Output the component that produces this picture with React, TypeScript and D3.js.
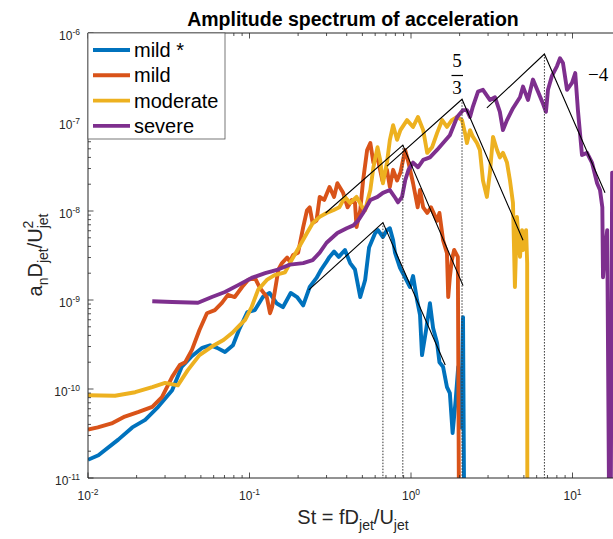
import React from 'react';
import * as d3 from 'd3';

type Pt = [number, number];

// St = fD/U, amplitude a_n D / U^2
const mildStar: Pt[] = [
  [0.01, 1.6e-11], [0.0116, 1.8e-11], [0.0154, 2.7e-11], [0.0188, 3.7e-11], [0.0226, 4.5e-11],
  [0.0272, 6.3e-11], [0.0332, 9.7e-11], [0.038, 1.77e-10], [0.0435, 2.3e-10], [0.051, 2.9e-10],
  [0.057, 3.1e-10], [0.063, 2.9e-10], [0.0705, 2.6e-10], [0.079, 3.1e-10], [0.086, 4.6e-10],
  [0.097, 7.3e-10], [0.108, 7.7e-10], [0.121, 1.08e-9], [0.133, 1.2e-9], [0.147, 9.2e-10],
  [0.161, 8.3e-10], [0.18, 1.2e-9], [0.197, 1.08e-9], [0.215, 8.7e-10], [0.236, 1.4e-9],
  [0.26, 1.77e-9], [0.278, 2.2e-9], [0.3, 2.7e-9], [0.313, 3.05e-9], [0.334, 3.5e-9],
  [0.357, 3.05e-9], [0.39, 3.65e-9], [0.42, 2.6e-9], [0.45, 2.2e-9], [0.485, 1.08e-9],
  [0.52, 1.68e-9], [0.55, 3.9e-9], [0.6, 5.65e-9], [0.625, 6.1e-9], [0.67, 5.1e-9],
  [0.71, 6.1e-9], [0.74, 6.4e-9], [0.775, 4.7e-9], [0.796, 3.4e-9], [0.855, 2.3e-9],
  [0.918, 1.8e-9], [0.986, 1.4e-9], [1.03, 1.86e-9], [1.09, 1e-9], [1.137, 6.8e-10],
  [1.17, 2.4e-10], [1.24, 4.6e-10], [1.31, 9.2e-10], [1.37, 4.85e-10], [1.45, 3.3e-10],
  [1.5, 2e-10], [1.58, 1.77e-10], [1.67, 1.05e-10], [1.74, 9e-11], [1.81, 3.2e-11],
  [1.89, 7.5e-11], [1.96, 1.77e-10], [2.04, 3.7e-11], [2.1, 6.4e-10], [2.16, 1e-13],
];

const mild: Pt[] = [
  [0.01, 3.5e-11], [0.0115, 3.7e-11], [0.014, 4.1e-11], [0.0169, 4.9e-11], [0.0204, 5.5e-11],
  [0.025, 6.3e-11], [0.0287, 8.1e-11], [0.0332, 1.37e-10], [0.037, 1.86e-10], [0.04, 2e-10],
  [0.044, 2.75e-10], [0.049, 4.6e-10], [0.0545, 7.1e-10], [0.061, 7.7e-10], [0.0675, 9.3e-10],
  [0.0735, 1.14e-9], [0.081, 1.08e-9], [0.09, 1.4e-9], [0.098, 1.68e-9], [0.108, 1.77e-9],
  [0.116, 1.37e-9], [0.128, 1.08e-9], [0.134, 7.1e-10], [0.138, 8.3e-10], [0.144, 1.3e-9],
  [0.151, 2.2e-9], [0.159, 2.6e-9], [0.171, 3e-9], [0.178, 2.7e-9], [0.186, 3.2e-9],
  [0.2, 3.4e-9], [0.215, 6.6e-9], [0.227, 1.02e-8], [0.236, 1.1e-8], [0.246, 7.3e-9],
  [0.26, 7.8e-9], [0.272, 1.44e-8], [0.29, 1.33e-8], [0.313, 1.86e-8], [0.334, 1.44e-8],
  [0.35, 2.05e-8], [0.38, 1.6e-8], [0.405, 1.1e-8], [0.43, 1.33e-8], [0.45, 1.23e-8],
  [0.46, 6.6e-9], [0.485, 1.02e-8], [0.505, 2.2e-8], [0.535, 4.85e-8], [0.56, 5.8e-8],
  [0.585, 3.5e-8], [0.62, 4e-8], [0.665, 2.2e-8], [0.71, 2.9e-8], [0.74, 1.86e-8],
  [0.775, 2.9e-8], [0.82, 2.2e-8], [0.86, 2.7e-8], [0.92, 4.85e-8], [0.965, 3.5e-8],
  [1.03, 2.05e-8], [1.1, 1.1e-8], [1.137, 1.72e-8], [1.19, 1.1e-8], [1.26, 9.5e-9],
  [1.33, 1.1e-8], [1.45, 7.8e-9], [1.5, 9.5e-9], [1.58, 4.7e-9], [1.67, 3.35e-9],
  [1.7, 1.08e-9], [1.74, 1.8e-9], [1.79, 2.8e-9], [1.85, 3.65e-9], [1.95, 3.05e-9],
  [2.0, 1e-13],
];

const moderate: Pt[] = [
  [0.01, 8.5e-11], [0.0147, 8.4e-11], [0.0196, 9.2e-11], [0.025, 1.05e-10], [0.03, 1.17e-10],
  [0.036, 1.1e-10], [0.0415, 1.63e-10], [0.049, 2.4e-10], [0.0585, 3e-10], [0.069, 3.55e-10],
  [0.078, 4.25e-10], [0.085, 5e-10], [0.094, 6e-10], [0.103, 8.3e-10], [0.113, 1.3e-9],
  [0.128, 1.68e-9], [0.143, 1.9e-9], [0.166, 2.05e-9], [0.178, 2.6e-9], [0.198, 3.65e-9],
  [0.227, 5.65e-9], [0.246, 7.3e-9], [0.272, 8.6e-9], [0.3, 9.5e-9], [0.33, 1.02e-8],
  [0.36, 1.1e-8], [0.39, 1.44e-8], [0.42, 1.23e-8], [0.46, 1.44e-8], [0.5, 1.1e-8],
  [0.52, 1.02e-8], [0.56, 1.72e-8], [0.585, 3.1e-8], [0.62, 5.2e-8], [0.645, 3.7e-8],
  [0.67, 2.05e-8], [0.71, 3.5e-8], [0.74, 6.3e-8], [0.775, 9.2e-8], [0.82, 6.3e-8],
  [0.86, 8.1e-8], [0.945, 1.05e-7], [1.03, 8.8e-8], [1.105, 1.14e-7], [1.19, 8.1e-8],
  [1.26, 4.5e-8], [1.35, 5.2e-8], [1.45, 7.5e-8], [1.56, 1.05e-7], [1.67, 8.8e-8],
  [1.79, 1.05e-7], [1.93, 1.14e-7], [2.07, 1.05e-7], [2.16, 7.5e-8], [2.22, 5.8e-8],
  [2.32, 8.1e-8], [2.42, 6.8e-8], [2.56, 5.8e-8], [2.67, 4.85e-8], [2.79, 2.2e-8],
  [2.95, 1.44e-8], [3.08, 2.7e-8], [3.22, 6.8e-8], [3.41, 4.85e-8], [3.55, 4e-8],
  [3.71, 4.5e-8], [3.93, 3.5e-8], [4.1, 2.2e-8], [4.28, 1.23e-8], [4.4, 1.4e-9],
  [4.53, 8.6e-9], [4.73, 3.05e-9], [4.87, 6.1e-9], [4.94, 3.65e-9], [5.16, 6.1e-9],
  [5.24, 2.6e-9], [5.26, 1e-13],
];

const severe: Pt[] = [
  [0.025, 9.7e-10], [0.0332, 9.5e-10], [0.048, 9.3e-10], [0.0585, 1.08e-9], [0.0705, 1.23e-9],
  [0.085, 1.47e-9], [0.103, 1.77e-9], [0.125, 2e-9], [0.15, 2.2e-9], [0.178, 2.5e-9],
  [0.215, 2.6e-9], [0.246, 2.8e-9], [0.272, 3.4e-9], [0.3, 4.4e-9], [0.35, 5.65e-9],
  [0.4, 6.4e-9], [0.44, 6.9e-9], [0.47, 7.8e-9], [0.505, 9.5e-9], [0.56, 1.33e-8],
  [0.62, 1.44e-8], [0.67, 1.6e-8], [0.74, 1.72e-8], [0.8, 1.4e-8], [0.83, 1.25e-8],
  [0.88, 1.44e-8], [0.92, 2.2e-8], [0.965, 2.9e-8], [1.03, 3.5e-8], [1.105, 3.1e-8],
  [1.19, 3.75e-8], [1.31, 4e-8], [1.45, 4.85e-8], [1.58, 5.8e-8], [1.74, 7.1e-8],
  [1.93, 1.14e-7], [2.1, 1.36e-7], [2.22, 1.36e-7], [2.32, 1.14e-7], [2.42, 1.5e-7],
  [2.6, 2.2e-7], [2.79, 2.3e-7], [3.08, 1.77e-7], [3.31, 1.9e-7], [3.55, 1.3e-7],
  [3.71, 8.1e-8], [3.93, 1.05e-7], [4.28, 1.43e-7], [4.73, 1.9e-7], [4.94, 2.5e-7],
  [5.3, 1.77e-7], [5.69, 3e-7], [6.11, 2.2e-7], [6.57, 1.6e-7], [6.85, 1.3e-7],
  [7.05, 2.3e-7], [7.46, 3.3e-7], [8.02, 4.25e-7], [8.37, 5.2e-7], [8.73, 4.6e-7],
  [9.25, 2.3e-7], [9.93, 2.75e-7], [10.4, 3.55e-7], [10.8, 1.37e-7], [11.45, 4.25e-8],
  [12.3, 4.5e-8], [13.2, 3.5e-8], [14.2, 2.05e-8], [14.8, 1.72e-8], [15.3, 1.1e-8],
  [15.45, 1.8e-9], [15.9, 3.65e-9], [16.4, 6.1e-9], [17.1, 1e-13], [17.6, 2.7e-8],
  [18.1, 1.5e-8],
];

const seriesNames = ['mild *', 'mild', 'moderate', 'severe'];
const seriesColors = ['#0072BD', '#D95319', '#EDB120', '#7E2F8E'];
const seriesData = [mildStar, mild, moderate, severe];

// slope guide triangles: start, apex, end
const slopeTriangles: Pt[][] = [
  [[0.233, 1.3e-9], [0.67, 7.4e-9], [1.63, 1.86e-10]],
  [[0.296, 9.5e-9], [0.89, 5.5e-8], [2.1, 1.45e-9]],
  [[0.71, 3.2e-8], [2.07, 1.8e-7], [4.94, 4.7e-9]],
  [[2.95, 1.44e-7], [6.7, 5.8e-7], [15.9, 1.6e-8]],
];

const xDomain: Pt = [1e-2, 31.6];
const yDomain: Pt = [1e-11, 1e-6];
const xMajor = [1e-2, 1e-1, 1e0, 1e1];
const xMajorLabels = ['-2', '-1', '0', '1'];
const yMajor = [1e-11, 1e-10, 1e-9, 1e-8, 1e-7, 1e-6];
const yMajorLabels = ['-11', '-10', '-9', '-8', '-7', '-6'];

const SANS = '"Liberation Sans", Arial, Helvetica, sans-serif';
const SERIF = '"Liberation Serif", "DejaVu Serif", serif';
const AX = '#262626';

export default function App() {
  const L = 88, T = 33, B = 478;
  const x = d3.scaleLog().domain(xDomain).range([L, L + 161.5 * Math.log10(xDomain[1] / xDomain[0])]);
  const y = d3.scaleLog().domain(yDomain).range([B, T]);
  const R = x(xDomain[1]);
  const line = d3.line<Pt>().x((d) => x(d[0])).y((d) => y(d[1]));

  const isMajor = (v: number) => Math.abs(Math.log10(v) - Math.round(Math.log10(v))) < 1e-9;
  const xt = x.ticks();
  const yt = y.ticks();

  return (
    <svg width={613} height={539} style={{ position: 'absolute', left: 0, top: 0, background: '#fff' }}
      fontFamily={SANS}>
      <defs>
        <clipPath id="plotclip">
          <rect x={L} y={T} width={R - L} height={B - T} />
        </clipPath>
      </defs>
      <rect x={0} y={0} width={613} height={539} fill="#fff" />

      {/* data */}
      <g clipPath="url(#plotclip)">
        {seriesData.map((s, i) => (
          <path key={i} d={line(s) || ''} fill="none" stroke={seriesColors[i]} strokeWidth={3.9}
            strokeLinejoin="round" strokeLinecap="butt" />
        ))}
        {slopeTriangles.map((t, i) => (
          <g key={i}>
            <line x1={x(t[1][0])} x2={x(t[1][0])} y1={y(t[1][1])} y2={B} stroke="#333" strokeWidth={1}
              strokeDasharray="1.5,1.5" />
            <path d={line(t) || ''} fill="none" stroke="#000" strokeWidth={1.1} />
          </g>
        ))}
      </g>

      {/* axes box */}
      <line x1={L} x2={R} y1={B} y2={B} stroke={AX} strokeWidth={1} />
      <line x1={L} x2={R} y1={T} y2={T} stroke={AX} strokeWidth={1} />
      <line x1={L} x2={L} y1={T} y2={B} stroke={AX} strokeWidth={1} />
      {xt.map((v, i) => {
        const len = isMajor(v) ? 5.5 : 3;
        return (
          <g key={'xt' + i}>
            <line x1={x(v)} x2={x(v)} y1={B} y2={B - len} stroke={AX} strokeWidth={0.8} />
            <line x1={x(v)} x2={x(v)} y1={T} y2={T + len} stroke={AX} strokeWidth={0.8} />
          </g>
        );
      })}
      {yt.map((v, i) => {
        const len = isMajor(v) ? 5.5 : 3;
        return <line key={'yt' + i} x1={L} x2={L + len} y1={y(v)} y2={y(v)} stroke={AX} strokeWidth={0.8} />;
      })}
      {xMajor.map((v, i) => (
        <text key={'xl' + i} x={x(v)} y={500} textAnchor="middle" fontSize={12} fill={AX}>
          10<tspan fontSize={8.5} dy={-5}>{xMajorLabels[i]}</tspan>
        </text>
      ))}
      {yMajor.map((v, i) => (
        <text key={'yl' + i} x={80} y={y(v) + 7} textAnchor="end" fontSize={12} fill={AX}>
          10<tspan fontSize={8.5} dy={-5}>{yMajorLabels[i]}</tspan>
        </text>
      ))}

      {/* slope labels */}
      <text x={457} y={67} textAnchor="middle" fontFamily={SERIF} fontSize={19} fill="#000">5</text>
      <line x1={451.5} x2={463} y1={75.5} y2={75.5} stroke="#000" strokeWidth={1.2} />
      <text x={457} y={94} textAnchor="middle" fontFamily={SERIF} fontSize={19} fill="#000">3</text>
      <text x={588} y={81} fontFamily={SERIF} fontSize={19} fill="#000">−4</text>

      {/* legend */}
      <rect x={L} y={T} width={137} height={106} fill="#fff" stroke="#555" strokeWidth={0.8} />
      {seriesNames.map((n, i) => (
        <g key={'lg' + i}>
          <line x1={93} x2={130} y1={50 + i * 25.3} y2={50 + i * 25.3} stroke={seriesColors[i]} strokeWidth={3.9} />
          <text x={134} y={50 + i * 25.3 + 7} fontSize={20} fill="#000">{n}</text>
        </g>
      ))}

      {/* title */}
      <text x={353} y={26} textAnchor="middle" fontSize={19.5} fontWeight="bold" fill="#000">
        Amplitude spectrum of acceleration
      </text>

      {/* x label */}
      <text x={353} y={524} textAnchor="middle" fontSize={20} fill={AX}>
        St = fD<tspan fontSize={14} dy={6}>jet</tspan><tspan dy={-6}>/U</tspan><tspan fontSize={14} dy={6}>jet</tspan>
      </text>

      {/* y label */}
      <text transform="translate(42,255) rotate(-90)" textAnchor="middle" fontSize={20} fill={AX}>
        a<tspan fontSize={14} dy={6}>n</tspan><tspan dy={-6}>D</tspan><tspan fontSize={14} dy={6}>jet</tspan>
        <tspan dy={-6}>/U</tspan><tspan fontSize={14} dy={6}>jet</tspan>
        <tspan fontSize={14} dx={-15} dy={-15}>2</tspan>
      </text>
    </svg>
  );
}
